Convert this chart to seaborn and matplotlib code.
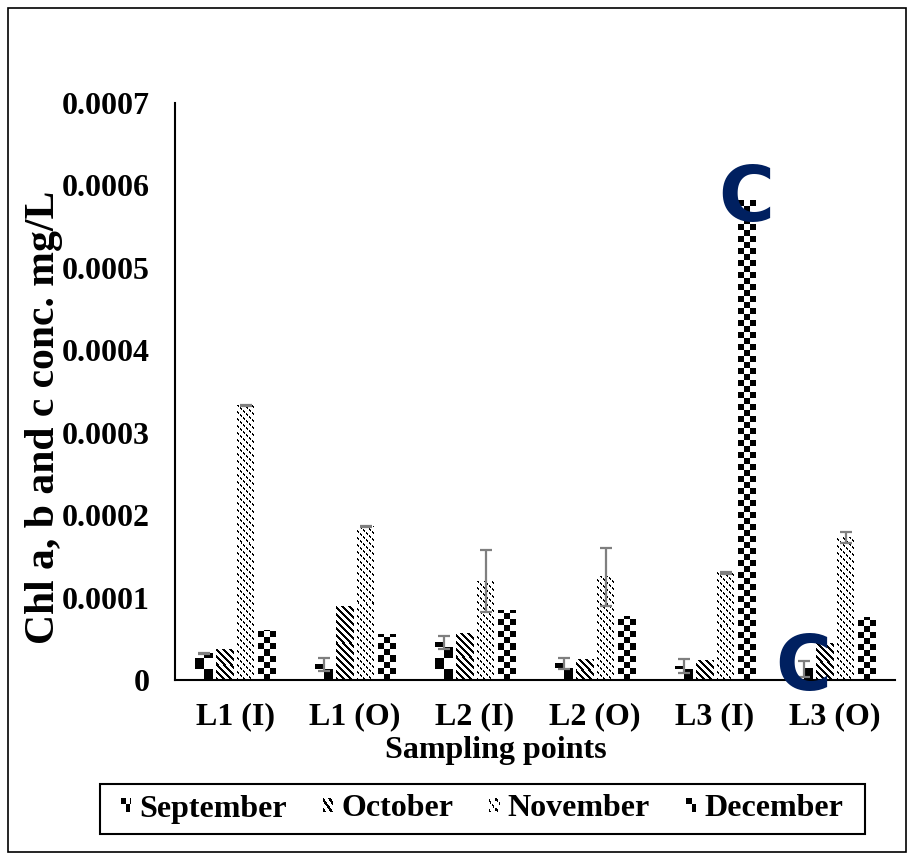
import numpy as np
import pandas as pd
import matplotlib
matplotlib.use("Agg")
import matplotlib.pyplot as plt
import seaborn as sns
from matplotlib.patches import Rectangle
from matplotlib.legend_handler import HandlerBase

# ---- data -------------------------------------------------------------
sites = ["L1 (I)", "L1 (O)", "L2 (I)", "L2 (O)", "L3 (I)", "L3 (O)"]
months = ["September", "October", "November", "December"]

september = [0.0000325, 0.000019, 0.0000455, 0.000020, 0.0000165, 0.0000135]
october = [0.0000366, 0.0000886, 0.0000560, 0.0000245, 0.0000237, 0.0000437]
november = [0.000333, 0.000186, 0.000120, 0.000125, 0.000130, 0.000173]
december = [0.0000600, 0.0000546, 0.0000841, 0.0000768, 0.000582, 0.0000761]

september_err = [0.0000005, 0.0000075, 0.0000078, 0.000007, 0.0000085, 0.00001]
november_err = [0.000001, 0.0000008, 0.000038, 0.000035, 0.000001, 0.000007]

y_ticks = [0, 0.0001, 0.0002, 0.0003, 0.0004, 0.0005, 0.0006, 0.0007]
y_tick_labels = ["0", "0.0001", "0.0002", "0.0003", "0.0004", "0.0005", "0.0006", "0.0007"]

# bars flagged with a letter
letter_marks = [("L3 (I)", "December", "C"), ("L3 (O)", "September", "C")]

values = {"September": september, "October": october,
          "November": november, "December": december}
errors = {"September": september_err, "November": november_err}

df = pd.DataFrame({
    "site": [s for m in months for s in sites],
    "month": [m for m in months for _ in sites],
    "value": [v for m in months for v in values[m]],
})

# ---- fill patterns (I = row counted from bottom, J = column from left) --
def pat_sep(I, J):
    return ((I // 11) + (J // 9)) % 2 == 1

def pat_oct(I, J):
    return (I + J) % 7 < 3

def pat_nov(I, J):
    return ((I + J) % 7 < 2) & (J % 3 != 2)

def pat_dec(I, J):
    return ((I // 6) + (J // 6)) % 2 == 1

patterns = {"September": pat_sep, "October": pat_oct,
            "November": pat_nov, "December": pat_dec}
icon_scale = {"September": 2, "October": 1, "November": 1, "December": 1}

# ---- styling ----------------------------------------------------------
sns.set_theme(style="white")
plt.rcParams["font.family"] = ["Liberation Serif", "DejaVu Serif"]
plt.rcParams["font.weight"] = "bold"
plt.rcParams["axes.labelweight"] = "bold"
plt.rcParams["text.color"] = "black"
plt.rcParams["axes.labelcolor"] = "black"
plt.rcParams["xtick.color"] = "black"
plt.rcParams["ytick.color"] = "black"

W_PX, H_PX = 908, 858
fig = plt.figure(figsize=(W_PX / 100, H_PX / 100), dpi=100)
fig.patch.set_facecolor("white")
ax = fig.add_axes([175 / W_PX, 1 - 680 / H_PX, 720 / W_PX, 577 / H_PX])

sns.barplot(data=df, x="site", y="value", hue="month", order=sites,
            hue_order=months, palette=["white"] * 4, saturation=1,
            width=0.7, gap=0.15, errorbar=None, legend=False, ax=ax)

ax.set_xlim(-0.5, len(sites) - 0.5)
ax.set_ylim(0, 0.0007)

# textured bar fills, one screen pixel per texture cell
for month, cont in zip(months, ax.containers):
    fn = patterns[month]
    for bar in cont:
        x0, w, h = bar.get_x(), bar.get_width(), bar.get_height()
        (px0, py0), (px1, py1) = ax.transData.transform([(x0, 0), (x0 + w, h)])
        ncol = max(1, int(round(px1 - px0)))
        nrow = max(1, int(round(py1 - py0)))
        I, J = np.meshgrid(np.arange(nrow)[::-1], np.arange(ncol), indexing="ij")
        tex = fn(I, J).astype(float)
        ax.imshow(tex, cmap="gray_r", vmin=0, vmax=1, extent=(x0, x0 + w, 0, h),
                  aspect="auto", interpolation="nearest", origin="upper", zorder=2)
        bar.set_facecolor("none")
        bar.set_edgecolor("none")

ax.set_xlim(-0.5, len(sites) - 0.5)
ax.set_ylim(0, 0.0007)
ax.set_aspect("auto")

# error bars
for month, cont in zip(months, ax.containers):
    if month not in errors:
        continue
    xs = [b.get_x() + b.get_width() / 2 for b in cont]
    ax.errorbar(xs, values[month], yerr=errors[month], fmt="none",
                ecolor="#7f7f7f", elinewidth=1.6, capsize=4.3, capthick=1.6,
                zorder=4)

# letter marks on bars
for site, month, letter in letter_marks:
    bar = ax.containers[months.index(month)][sites.index(site)]
    ax.text(bar.get_x() + bar.get_width() / 2, bar.get_height(), letter,
            color="#002060", fontsize=55, fontweight="bold",
            family=["DejaVu Sans"], ha="center", va="center", zorder=5)

# axes
ax.set_yticks(y_ticks)
ax.set_yticklabels(y_tick_labels)
ax.tick_params(axis="both", length=0, labelsize=23, colors="black")
ax.tick_params(axis="y", pad=18)
ax.tick_params(axis="x", pad=16)
for lab in ax.get_xticklabels() + ax.get_yticklabels():
    lab.set_fontweight("bold")
    lab.set_color("black")
for side in ("top", "right"):
    ax.spines[side].set_visible(False)
for side in ("left", "bottom"):
    ax.spines[side].set_color("black")
    ax.spines[side].set_linewidth(1.5)
ax.set_facecolor("white")

ax.set_xlabel("Sampling points", fontsize=23, fontweight="bold", color="black")
ax.set_ylabel("Chl a, b and c conc. mg/L", fontsize=30, fontweight="bold",
              color="black")
ax.xaxis.set_label_coords(0.446, -0.097)
ax.yaxis.set_label_coords(-0.155, 0.456)


# legend with pattern swatches
class PatternHandler(HandlerBase):
    def __init__(self, fn, scale):
        super().__init__()
        self.fn = fn
        self.scale = scale

    def create_artists(self, legend, orig_handle, xdescent, ydescent,
                       width, height, fontsize, trans):
        n = 10
        cw, ch = width / n, height / n
        I, J = np.meshgrid(np.arange(n), np.arange(n), indexing="ij")
        mask = self.fn(I * self.scale, J * self.scale)
        arts = [Rectangle((-xdescent, -ydescent), width, height,
                          facecolor="white", edgecolor="none", transform=trans)]
        for i, j in zip(*np.nonzero(mask)):
            arts.append(Rectangle((-xdescent + j * cw, -ydescent + i * ch), cw, ch,
                                  facecolor="black", edgecolor="none", lw=0,
                                  transform=trans))
        return arts


proxies = [Rectangle((0, 0), 1, 1) for _ in months]
hmap = {p: PatternHandler(patterns[m], icon_scale[m]) for p, m in zip(proxies, months)}
leg = fig.legend(proxies, months, handler_map=hmap, loc="center",
                 bbox_to_anchor=(482 / W_PX, 1 - 809 / H_PX), ncol=4,
                 prop={"size": 23, "weight": "bold"}, frameon=False,
                 handlelength=0.33, handleheight=0.33, handletextpad=0.25,
                 columnspacing=1.12, borderpad=0.0, borderaxespad=0)
for t in leg.get_texts():
    t.set_color("black")

# legend box
fig.patches.append(Rectangle((100 / W_PX, 1 - 834 / H_PX), 765 / W_PX, 50 / H_PX,
                             transform=fig.transFigure, fill=False,
                             edgecolor="black", linewidth=1.5))

# outer frame of the figure
fig.patches.append(Rectangle((8 / W_PX, 1 - 852 / H_PX), 898 / W_PX, 844 / H_PX,
                             transform=fig.transFigure, fill=False,
                             edgecolor="black", linewidth=1.2))

fig.savefig("out.png", dpi=100, facecolor="white")
